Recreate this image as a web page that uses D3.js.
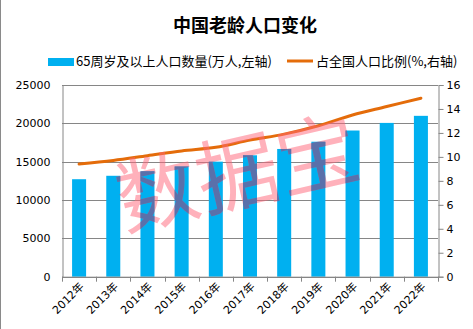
<!DOCTYPE html>
<html><head><meta charset="utf-8">
<script src="https://cdn.jsdelivr.net/npm/d3@7"></script>
<style>
html,body{margin:0;padding:0;background:#fff;}
svg{display:block;}
</style></head>
<body>
<script>
const years = ["2012年","2013年","2014年","2015年","2016年","2017年","2018年","2019年","2020年","2021年","2022年"];
const population = [12714,13161,13755,14386,15003,15831,16658,17603,19064,20056,20978];
const ratio = [9.4,9.7,10.1,10.5,10.8,11.4,11.9,12.6,13.5,14.2,14.9];
const leftTicks = [0,5000,10000,15000,20000,25000];
const rightTicks = [0,2,4,6,8,10,12,14,16];
const title = "中国老龄人口变化";
const legendBar = "65周岁及以上人口数量(万人,左轴)";
const legendLine = "占全国人口比例(%,右轴)";
const watermark = "数据宝";

const W = 473, H = 329;
const plot = {l:62, r:438, t:85, b:276.7};
const svg = d3.select("body").append("svg").attr("width",W).attr("height",H);

svg.append("line").attr("x1",0.5).attr("x2",0.5).attr("y1",0).attr("y2",H)
  .attr("stroke","#8a8a8a").attr("stroke-width",1);

const x = d3.scaleBand().domain(years).range([plot.l, plot.r]).padding(0);
const yL = d3.scaleLinear().domain([0,25000]).range([plot.b, plot.t]);
const yR = d3.scaleLinear().domain([0,16]).range([plot.b, plot.t]);
const barW = x.bandwidth()*0.41;

// title
svg.append("text").attr("x",245).attr("y",24).attr("text-anchor","middle")
  .attr("dominant-baseline","central")
  .style("font-family","'Noto Sans CJK SC'").style("font-weight","bold").style("font-size","18px")
  .attr("fill","#000").text(title);

// legend
const lg = svg.append("g").style("font-family","'Noto Sans CJK SC'").style("font-size","13px");
lg.append("rect").attr("x",48).attr("y",58).attr("width",26).attr("height",8).attr("fill","#00B0F0");
lg.append("text").attr("x",76).attr("y",60).attr("dominant-baseline","central").attr("fill","#000").text(legendBar);
lg.append("line").attr("x1",287).attr("x2",313).attr("y1",61).attr("y2",61).attr("stroke","#E46C0A").attr("stroke-width",3);
lg.append("text").attr("x",316).attr("y",60).attr("dominant-baseline","central").attr("fill","#000").text(legendLine);

// gridlines
svg.append("g").selectAll("line").data(leftTicks).join("line")
  .attr("x1",plot.l).attr("x2",plot.r)
  .attr("y1",d=>Math.round(yL(d))+0.5).attr("y2",d=>Math.round(yL(d))+0.5)
  .attr("stroke","#868686").attr("stroke-width",1);

// left axis
const gL = svg.append("g").attr("transform",`translate(${plot.l+0.5},0)`)
  .call(d3.axisLeft(yL).tickValues(leftTicks).tickSize(0).tickPadding(12).tickFormat(d3.format("d")));
gL.select(".domain").attr("stroke","#868686");
gL.selectAll("text").style("font-family","'DejaVu Sans'").style("font-size","11px").attr("fill","#000");

// right axis
const gR = svg.append("g").attr("transform",`translate(${plot.r+0.5},0)`)
  .call(d3.axisRight(yR).tickValues(rightTicks).tickSize(5).tickPadding(3).tickFormat(d3.format("d")));
gR.select(".domain").attr("stroke","#868686");
gR.selectAll(".tick line").attr("stroke","#868686");
gR.selectAll("text").style("font-family","'DejaVu Sans'").style("font-size","11px").attr("fill","#000");

// bars
const clip = svg.append("defs").append("clipPath").attr("id","barclip");
svg.append("g").selectAll("rect").data(population).join("rect")
  .attr("x",(d,i)=>x(years[i])+x.bandwidth()/2-barW/2)
  .attr("width",barW)
  .attr("y",d=>yL(d)).attr("height",d=>plot.b-yL(d))
  .attr("fill","#00B0F0");
clip.selectAll("rect").data(population).join("rect")
  .attr("x",(d,i)=>x(years[i])+x.bandwidth()/2-barW/2)
  .attr("width",barW)
  .attr("y",d=>yL(d)).attr("height",d=>plot.b-yL(d));

// bottom axis
const gB = svg.append("g").attr("transform",`translate(0,${plot.b})`);
gB.append("line").attr("x1",plot.l).attr("x2",plot.r+1).attr("y1",0.5).attr("y2",0.5).attr("stroke","#868686");
const bounds = years.map(d=>x(d)).concat([plot.r]);
gB.selectAll("line.tk").data(bounds).join("line").attr("class","tk")
  .attr("x1",d=>Math.round(d)+0.5).attr("x2",d=>Math.round(d)+0.5)
  .attr("y1",0).attr("y2",5).attr("stroke","#868686");
gB.selectAll("text").data(years).join("text")
  .attr("transform",d=>`translate(${x(d)+x.bandwidth()/2+3},${8}) rotate(-45)`)
  .attr("text-anchor","end").attr("dominant-baseline","central")
  .style("font-family","'DejaVu Sans','Noto Sans CJK SC'").style("font-size","11px")
  .attr("fill","#000").text(d=>d);

// line
const line = d3.line().x((d,i)=>x(years[i])+x.bandwidth()/2).y(d=>yR(d)).curve(d3.curveCatmullRom.alpha(0.5));
svg.append("path").datum(ratio).attr("d",line).attr("fill","none")
  .attr("stroke","#E46C0A").attr("stroke-width",3).attr("stroke-linecap","round");

// watermark
const wm = (sel)=>sel.append("text").attr("text-anchor","middle").attr("dominant-baseline","central")
  .attr("transform","translate(236,168) rotate(-13)")
  .style("font-family","'Noto Sans CJK SC'").style("font-size","82px").text(watermark);
wm(svg).attr("fill","rgb(255,100,120)").attr("fill-opacity",0.5);
wm(svg.append("g").attr("clip-path","url(#barclip)")).attr("fill","#5a70aa");
</script>
</body></html>
